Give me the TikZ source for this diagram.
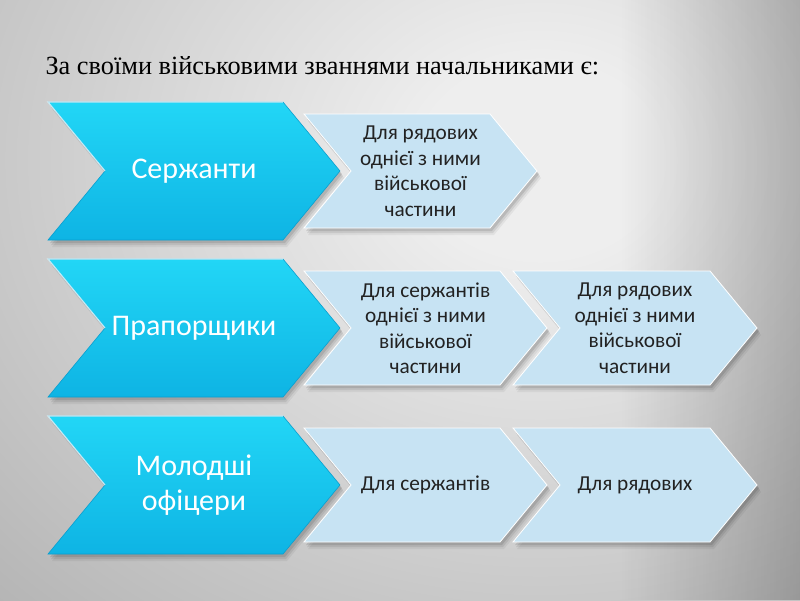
\documentclass[tikz,border=0pt]{standalone}
\usepackage{fontspec}
\setmainfont{Liberation Serif}
\newfontfamily\calfont{Carlito}
\usetikzlibrary{fadings}
\definecolor{bgin}{HTML}{EEEEEE}
\definecolor{bgout}{HTML}{888888}
\definecolor{bigtop}{HTML}{22D6F6}
\definecolor{bigbot}{HTML}{0EB4E4}
\definecolor{bigedge}{HTML}{0A9FCF}
\definecolor{lightfill}{HTML}{C7E3F3}
\definecolor{txt}{HTML}{222222}
\pgfdeclareradialshading{bgshade}{\pgfpoint{0bp}{0bp}}{color(0bp)=(bgin); color(3bp)=(bgin); color(32bp)=(bgout); color(50bp)=(bgout)}
\tikzfading[name=fadeR, left color=transparent!100, right color=transparent!0]
\tikzset{
  shadowA/.style={fill=black, opacity=0.10, shift={(2,3)}},
  shadowB/.style={fill=black, opacity=0.08, shift={(3,5)}},
  shadowC/.style={fill=black, opacity=0.05, shift={(4,7)}},
  bigshape/.style={top color=bigtop, bottom color=bigbot, draw=bigedge, line width=0.6pt},
  bighilite/.style={draw=white, opacity=0.75, line width=1.2pt},
  lightshape/.style={fill=lightfill, draw=white, line width=0.8pt},
  bigtext/.style={font=\calfont\fontsize{30}{35}\selectfont, text=white, align=center},
  lighttext/.style={font=\calfont\fontsize{21.3}{25.5}\selectfont, text=txt, align=center},
  titletext/.style={font=\fontsize{26.3}{30}\selectfont, text=black, anchor=base west}
}
% chevron outline: #1 x1, #2 x2, #3 centre y, #4 half height, #5 depth
\newcommand\ChevPath[5]{(#1,#3-#4) -- (#2,#3-#4) -- (#2+#5,#3) -- (#2,#3+#4) -- (#1,#3+#4) -- (#1+#5,#3) -- cycle}
\newcommand\ChevShadow[5]{%
  \fill[shadowC] \ChevPath{#1}{#2}{#3}{#4}{#5};
  \fill[shadowB] \ChevPath{#1}{#2}{#3}{#4}{#5};
  \fill[shadowA] \ChevPath{#1}{#2}{#3}{#4}{#5};
}
% #1 centre y, #2 name, #3 text
\newcommand\BigChev[3]{%
  \ChevShadow{48}{283}{#1}{69}{57}
  \path[bigshape] \ChevPath{48}{283}{#1}{69}{57};
  \draw[bighilite] (105,#1) -- (48,#1-69) -- (283,#1-69);
  \node[bigtext] (#2) at (194,#1) {#3};
}
% #1 x1, #2 x2, #3 centre y, #4 name, #5 text
\newcommand\LightChev[5]{%
  \ChevShadow{#1}{#2}{#3}{57}{47}
  \path[lightshape] \ChevPath{#1}{#2}{#3}{57}{47};
  \node[lighttext] (#4) at ({(#1+47+#2)/2},#3) {#5};
}
\begin{document}
\begin{tikzpicture}[x=1pt,y=-1pt]
\useasboundingbox (0,0) rectangle (800,600);
\begin{scope}
\clip (0,0) rectangle (800,600);
\fill[bgout] (0,0) rectangle (800,600);
\path[shading=bgshade] (540,160) ellipse [x radius=1000, y radius=812];
\fill[black, opacity=0.22, path fading=fadeR] (620,0) rectangle (800,600);
\end{scope}
\node[titletext] (title) at (42,74) {За своїми військовими званнями начальниками є:};
% row 1
\LightChev{304}{490}{171}{r1a}{Для рядових\\однієї з ними\\військової\\частини}
\BigChev{171}{r1}{Сержанти}
% row 2
\LightChev{304}{500}{328}{r2a}{Для сержантів\\однієї з ними\\військової\\частини}
\LightChev{513}{710}{328}{r2b}{Для рядових\\однієї з ними\\військової\\частини}
\BigChev{328}{r2}{Прапорщики}
% row 3
\LightChev{304}{500}{485}{r3a}{Для сержантів}
\LightChev{513}{710}{485}{r3b}{Для рядових}
\BigChev{485}{r3}{Молодші\\офіцери}
\end{tikzpicture}
\end{document}
